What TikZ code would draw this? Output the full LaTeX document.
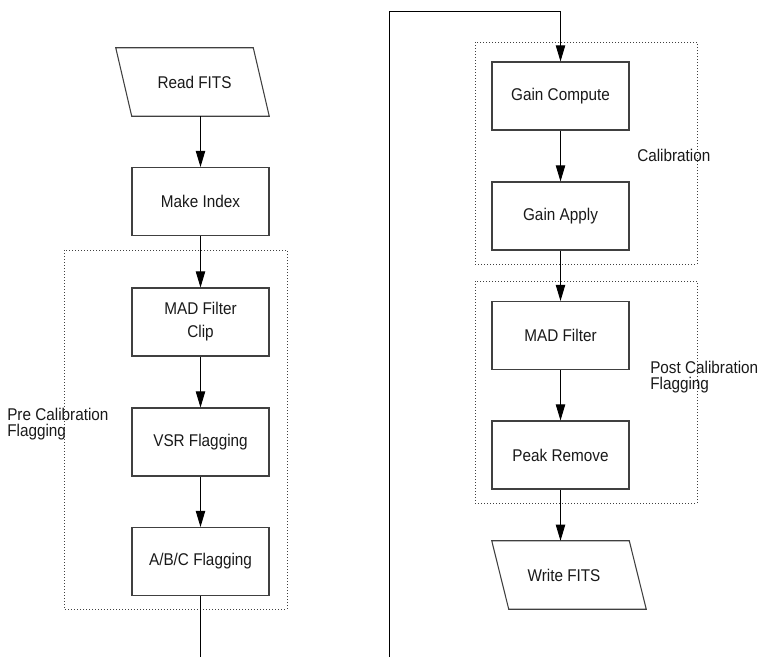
\documentclass[tikz,border=0pt]{standalone}
\usepackage{fontspec}
\setmainfont{Liberation Sans}[FakeStretch=0.9]
\usetikzlibrary{arrows.meta,calc}
\begin{document}
\begin{tikzpicture}[x=0.75pt,y=-0.75pt,
  txt/.style={font=\fontsize{12.75}{17.25}\selectfont, text=black!90},
  box/.style={txt, draw=black!75, line width=0.8pt, minimum width=102.75pt, minimum height=51pt, inner sep=0pt, align=center},
  io/.style={txt, minimum width=102.75pt, minimum height=51pt, inner sep=0pt, align=center},
  ioline/.style={draw=black!75, line width=0.8pt, line join=miter},
  grp/.style={draw=black!75, line width=0.75pt, dash pattern=on 0.75pt off 1.5pt},
  lab/.style={txt, anchor=base west, inner sep=0pt},
  flow/.style={draw=black, line width=0.7pt, -{Triangle[length=12pt,width=7pt]}},
  plain/.style={draw=black, line width=0.7pt}]
\useasboundingbox (0,0) rectangle (762,657);

% group frames
\draw[grp] (64,250) rectangle (287,609);
\draw[grp] (475,42) rectangle (697,264);
\draw[grp] (475,281) rectangle (697,503);

% group labels
\node[lab] (pre1) at (7,420) {Pre Calibration};
\node[lab] (pre2) at (7,436) {Flagging};
\node[lab] (cal) at (637,161) {Calibration};
\node[lab] (post1) at (650,373) {Post Calibration};
\node[lab] (post2) at (650,389) {Flagging};

% left column
\node[io] (read) at (194.5,82) {Read FITS};
\draw[ioline] ($(read.north west)+(-10,0)$) -- ($(read.north east)+(-10,0)$) -- ($(read.south east)+(6,0)$) -- ($(read.south west)+(6,0)$) -- cycle;
\node[box] (mi) at (200.5,201.5) {Make Index};
\node[box] (mad) at (200.5,322) {MAD Filter\\Clip};
\node[box] (vsr) at (200.5,442) {VSR Flagging};
\node[box] (abc) at (200.5,561.5) {A/B/C Flagging};
\coordinate (lend) at (200.5,657);

% right column
\coordinate (rstart) at (389,657);
\coordinate (rtop) at (389,11);
\node[box] (gc) at (560.5,96) {Gain Compute};
\node[box] (ga) at (560.5,216) {Gain Apply};
\node[box] (mf) at (560.5,335.5) {MAD Filter};
\node[box] (pr) at (560.5,455) {Peak Remove};
\node[io] (wf) at (564,575) {Write FITS};
\draw[ioline] ($(wf.north west)+(-3.5,0)$) -- ($(wf.north east)+(-3.5,0)$) -- ($(wf.south east)+(13.5,0)$) -- ($(wf.south west)+(13.5,0)$) -- cycle;

% connectors
\draw[flow] (mi.north |- read.south) -- (mi.north);
\draw[flow] (mi.south) -- (mad.north);
\draw[flow] (mad.south) -- (vsr.north);
\draw[flow] (vsr.south) -- (abc.north);
\draw[plain] (abc.south) -- (lend);
\draw[flow] (rstart) -- (rtop) -| (gc.north);
\draw[flow] (gc.south) -- (ga.north);
\draw[flow] (ga.south) -- (mf.north);
\draw[flow] (mf.south) -- (pr.north);
\draw[flow] (pr.south) -- (pr.south |- wf.north);
\end{tikzpicture}
\end{document}
